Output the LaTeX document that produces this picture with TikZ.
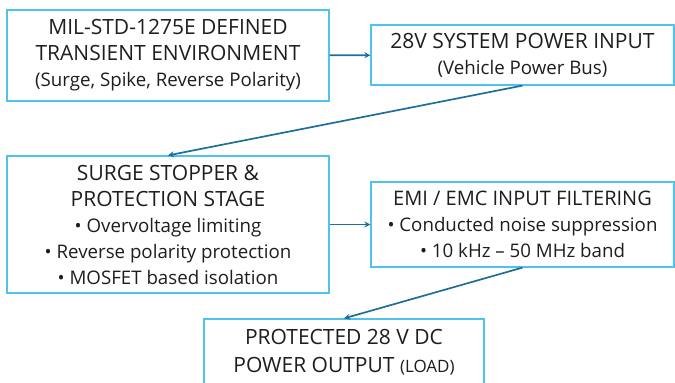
\documentclass[tikz,border=0pt]{standalone}
\usepackage{fontspec}
\setmainfont{Open Sans}
\usetikzlibrary{arrows.meta}
\definecolor{boxblue}{HTML}{4EC3F0}
\definecolor{arrowblue}{HTML}{1F6E98}
\definecolor{txt}{HTML}{1E1E1E}
\tikzset{
  blk/.style={draw=boxblue, line width=1.2pt, fill=white, text=txt, align=center, inner sep=0pt, font=\fontsize{21}{26}\selectfont},
  conn/.style={draw=arrowblue, line width=1.7pt, -{Stealth[length=6pt,width=6pt]}},
}
\newcommand{\subt}[1]{{\fontsize{18.7}{25}\selectfont #1}}
\begin{document}
\begin{tikzpicture}[x=1pt,y=1pt]
\useasboundingbox (0,0) rectangle (675,383);
\node[blk, minimum width=322pt, minimum height=91pt] (src) at (168,327.5)
  {MIL-STD-1275E DEFINED\\TRANSIENT ENVIRONMENT\\\subt{(Surge, Spike, Reverse Polarity)}};
\node[blk, minimum width=303pt, minimum height=60pt] (pin) at (522.5,328)
  {28V SYSTEM POWER INPUT\\\subt{(Vehicle Power Bus)}};
\node[blk, minimum width=322pt, minimum height=137pt] (surge) at (168,158.5)
  {SURGE STOPPER \&\\PROTECTION STAGE\\\subt{\textbullet\ Overvoltage limiting}\\\subt{\textbullet\ Reverse polarity protection}\\\subt{\textbullet\ MOSFET based isolation}};
\node[blk, minimum width=303pt, minimum height=85pt] (emi) at (522.5,158.5)
  {{\fontsize{20}{25}\selectfont EMI / EMC INPUT FILTERING}\\\subt{\textbullet\ Conducted noise suppression}\\\subt{\textbullet\ 10 kHz -- 50 MHz band}};
\node[blk, minimum width=280pt, minimum height=66pt, font=\fontsize{21}{28}\selectfont] (out) at (344,31)
  {PROTECTED 28 V DC\\POWER OUTPUT {\fontsize{17}{28}\selectfont (LOAD)}};
\draw[conn] (src) -- (pin);
\draw[conn] (pin.south) -- (surge.north);
\draw[conn] (surge) -- (emi);
\draw[conn] (emi.south) -- (out.north);
\end{tikzpicture}
\end{document}
